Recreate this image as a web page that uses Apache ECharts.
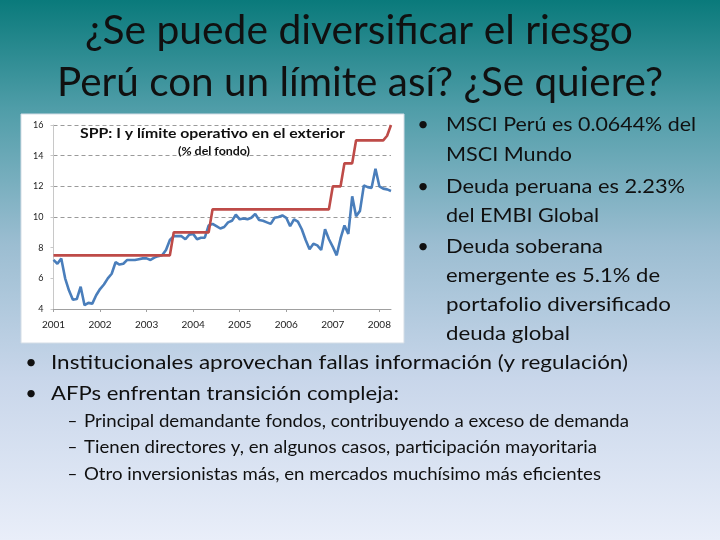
<!DOCTYPE html>
<html><head><meta charset="utf-8">
<script src="https://cdn.jsdelivr.net/npm/echarts@6/dist/echarts.min.js"></script>
<style>html,body{margin:0;padding:0;background:#fff}#c{width:720px;height:540px}</style>
</head><body><div id="c"></div>
<script>
// ---- data (monthly, Jan 2001 .. Apr 2008), % del fondo ----
const startYear = 2001;
const yearLabels = ['2001','2002','2003','2004','2005','2006','2007','2008'];
const yTicks = [4, 6, 8, 10, 12, 14, 16];
// SPP: inversión en el exterior
const invested = [
  7.2, 6.95, 7.3, 6.0, 5.2, 4.6, 4.65, 5.45, 4.25, 4.4, 4.35, 4.9,
  5.3, 5.6, 6.0, 6.3, 7.05, 6.9, 6.95, 7.2, 7.2, 7.2, 7.25, 7.3,
  7.3, 7.2, 7.35, 7.45, 7.5, 7.85, 8.5, 8.75, 8.75, 8.75, 8.55, 8.85,
  8.9, 8.55, 8.65, 8.65, 9.45, 9.55, 9.4, 9.25, 9.35, 9.65, 9.75, 10.15,
  9.85, 9.9, 9.85, 9.95, 10.2, 9.8, 9.75, 9.65, 9.55, 9.95, 10.0, 10.1,
  9.95, 9.4, 9.85, 9.7, 9.2, 8.5, 7.9, 8.25, 8.15, 7.85, 9.2, 8.55,
  8.05, 7.5, 8.6, 9.45, 8.9, 11.35, 10.05, 10.4, 12.05, 11.95, 11.9, 13.15,
  12.0, 11.85, 11.8, 11.7
];
// Límite operativo
const limit = [
  7.5, 7.5, 7.5, 7.5, 7.5, 7.5, 7.5, 7.5, 7.5, 7.5, 7.5, 7.5,
  7.5, 7.5, 7.5, 7.5, 7.5, 7.5, 7.5, 7.5, 7.5, 7.5, 7.5, 7.5,
  7.5, 7.5, 7.5, 7.5, 7.5, 7.5, 7.5, 9, 9, 9, 9, 9,
  9, 9, 9, 9, 9, 10.5, 10.5, 10.5, 10.5, 10.5, 10.5, 10.5,
  10.5, 10.5, 10.5, 10.5, 10.5, 10.5, 10.5, 10.5, 10.5, 10.5, 10.5, 10.5,
  10.5, 10.5, 10.5, 10.5, 10.5, 10.5, 10.5, 10.5, 10.5, 10.5, 10.5, 10.5,
  12, 12, 12, 13.5, 13.5, 13.5, 15, 15, 15, 15, 15, 15,
  15, 15, 15.3, 16
];
const titleLines = ['¿Se puede diversificar el riesgo', 'Perú con un límite así? ¿Se quiere?'];
const chartTitle = 'SPP: I y límite operativo en el exterior';
const chartSubtitle = '(% del fondo)';
const rightBullets = [
  ['•', 'MSCI Perú es 0.0644% del'], ['', 'MSCI Mundo'],
  ['•', 'Deuda peruana es 2.23%'], ['', 'del EMBI Global'],
  ['•', 'Deuda soberana'], ['', 'emergente es 5.1% de'], ['', 'portafolio diversificado'], ['', 'deuda global']
];
const mainBullets = ['Institucionales aprovechan fallas información (y regulación)', 'AFPs enfrentan transición compleja:'];
const subBullets = [
  'Principal demandante fondos, contribuyendo a exceso de demanda',
  'Tienen directores y, en algunos casos, participación mayoritaria',
  'Otro inversionistas más, en mercados muchísimo más eficientes'
];

// ---- categories ----
const months = invested.map((_, i) => (startYear + Math.floor(i / 12)) + '-' + String(i % 12 + 1).padStart(2, '0'));

const chart = echarts.init(document.getElementById('c'));
const mctx = document.createElement('canvas').getContext('2d');
const FAM = 'Lato';
function txt(text, x, y, size, target, o) {
  o = o || {};
  const weight = o.weight || 'normal';
  mctx.font = weight + ' ' + size + 'px ' + FAM;
  const w = mctx.measureText(text).width;
  const s = target ? target / w : 1;
  return { type: 'text', x: x, y: y, scaleX: s, silent: true, z: 20,
    style: { text: text, fontSize: size, fontFamily: FAM, fontWeight: weight,
      fill: o.fill || '#101010', align: o.align || 'left', verticalAlign: 'middle' } };
}

const graphics = [
  { type: 'rect', shape: { x: 0, y: 0, width: 720, height: 540 }, z: -20, silent: true,
    style: { fill: new echarts.graphic.LinearGradient(0, 0, 0, 1, [
      { offset: 0, color: '#0a7a7b' }, { offset: 0.2, color: '#4f9da8' },
      { offset: 0.45, color: '#9bbdd1' }, { offset: 0.7, color: '#c8d6ea' },
      { offset: 1, color: '#e9eef9' }]) } },
  { type: 'rect', shape: { x: 21, y: 114, width: 383, height: 229 }, z: -10, silent: true,
    style: { fill: '#ffffff', stroke: '#d4dde6', lineWidth: 1 } },
  txt(titleLines[0], 359, 31, 40, 548, { align: 'center' }),
  txt(titleLines[1], 360, 83, 40, 606, { align: 'center' }),
  txt(chartTitle, 212.5, 133, 14, 265, { align: 'center', weight: 'bold' }),
  txt(chartSubtitle, 214, 151.5, 10.5, 72, { align: 'center', weight: 'bold' })
];
const rightY = [125, 155, 186.5, 215.5, 246.5, 275.5, 305, 333.5];
const rightW = [250, 126, 239, 153, 157, 214, 225, 124];
rightBullets.forEach((b, i) => {
  if (b[0]) graphics.push(txt(b[0], 423, rightY[i], 20, 0, { align: 'center' }));
  graphics.push(txt(b[1], 446, rightY[i], 20, rightW[i]));
});
const mainY = [363, 394], mainW = [577, 348];
mainBullets.forEach((t, i) => {
  graphics.push(txt('•', 31, mainY[i], 20, 0, { align: 'center' }));
  graphics.push(txt(t, 51, mainY[i], 20, mainW[i]));
});
const subY = [421.5, 448, 475], subW = [545, 513, 517];
subBullets.forEach((t, i) => {
  graphics.push(txt('–', 72.5, subY[i], 17, 0, { align: 'center' }));
  graphics.push(txt(t, 84, subY[i], 17, subW[i]));
});

const gridColors = yTicks.map(v => v >= 10 ? '#9a9a9a' : 'rgba(0,0,0,0)');
const yearIdx = i => i % 12 === 0;

chart.setOption({
  animation: false,
  backgroundColor: 'transparent',
  graphic: graphics,
  grid: { left: 53.5, right: 329, top: 125, bottom: 231, containLabel: false },
  xAxis: {
    type: 'category', data: months, boundaryGap: false,
    axisLine: { lineStyle: { color: '#a0a0a0', width: 1 } },
    axisTick: { interval: yearIdx, length: 3, lineStyle: { color: '#a0a0a0' } },
    axisLabel: { interval: yearIdx, formatter: v => v.slice(0, 4), margin: 11,
      fontFamily: FAM, fontSize: 10, color: '#222' },
    splitLine: { show: false }
  },
  yAxis: {
    type: 'value', min: 4, max: 16, interval: 2,
    axisLine: { show: true, lineStyle: { color: '#c8c8c8' } },
    axisTick: { show: true, length: 3, lineStyle: { color: '#c8c8c8' } },
    axisLabel: { margin: 10, fontFamily: FAM, fontSize: 9, color: '#222' },
    splitLine: { show: true, lineStyle: { type: [4, 3], color: gridColors, width: 1 } }
  },
  series: [
    { type: 'line', name: 'Inversión', data: invested, symbol: 'none', z: 3,
      lineStyle: { color: '#4a7ebb', width: 2.6 } },
    { type: 'line', name: 'Límite', data: limit, symbol: 'none', z: 4,
      lineStyle: { color: '#be4b48', width: 2.6 } }
  ]
});
</script></body></html>
